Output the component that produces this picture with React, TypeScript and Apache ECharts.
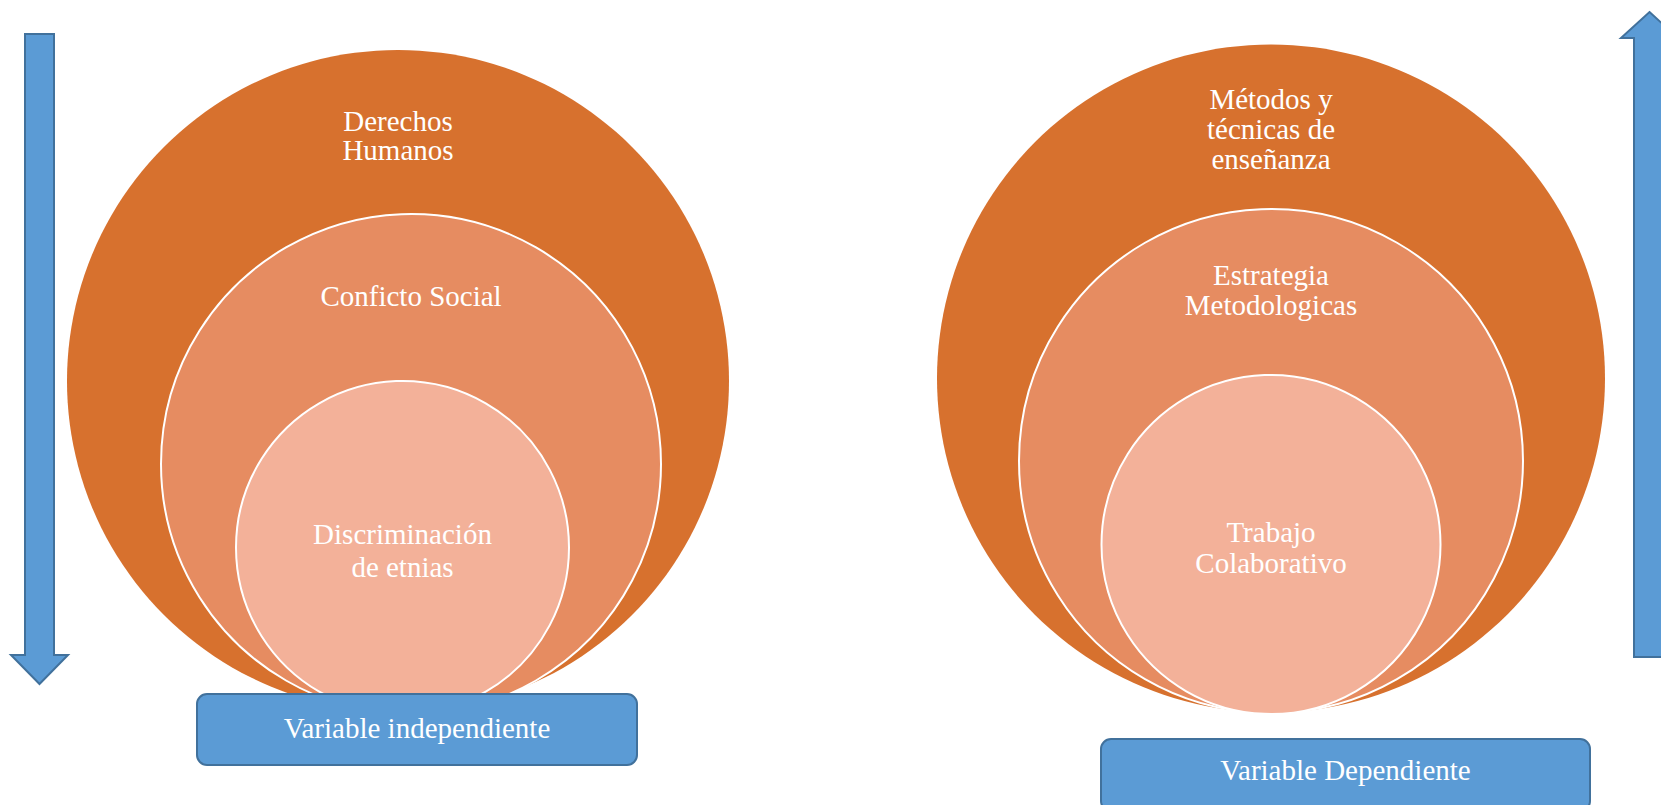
import React, { useEffect, useRef } from "react";
import * as echarts from "echarts";

// Labels of the nested circles (outer -> inner)
const leftLabels = ["Derechos\nHumanos", "Conficto Social", "Discriminación\nde etnias"];
const rightLabels = ["Métodos y\ntécnicas de\nenseñanza", "Estrategia\nMetodologicas", "Trabajo\nColaborativo"];
const boxLabels = ["Variable independiente", "Variable Dependiente"];
const ringColors = ["#D7712E", "#E68C61", "#F3B199"];

const FONT = "'Liberation Serif', 'Times New Roman', serif";
const BLUE = "#5B9BD5";
const BLUE_EDGE = "#41719C";

export default function App() {
  const ref = useRef<HTMLDivElement>(null);
  useEffect(() => {
    if (!ref.current) return;
    const chart = echarts.init(ref.current, null, { renderer: "svg" });

    const leftCircles = [
      { cx: 398, cy: 381, r: 331, ty: 135, lh: 29 },
      { cx: 411, cy: 464, r: 250, ty: 296, lh: 29 },
      { cx: 402.5, cy: 547.5, r: 166.5, ty: 550, lh: 33 },
    ];
    const rightCircles = [
      { cx: 1271, cy: 378.5, r: 334, ty: 129, lh: 30 },
      { cx: 1271, cy: 461, r: 252, ty: 290, lh: 30 },
      { cx: 1271, cy: 544.5, r: 169.5, ty: 547.5, lh: 31 },
    ];

    const elements: any[] = [];
    const addSet = (circles: any[], labels: string[]) => {
      circles.forEach((c, i) => {
        elements.push({
          type: "circle",
          shape: { cx: c.cx, cy: c.cy, r: c.r },
          style: {
            fill: ringColors[i],
            stroke: i === 0 ? "none" : "#FFFFFF",
            lineWidth: i === 0 ? 0 : 2,
          },
        });
      });
      circles.forEach((c, i) => {
        elements.push({
          type: "text",
          x: c.cx,
          y: c.ty,
          style: {
            text: labels[i],
            fill: "#FFFFFF",
            font: `29px ${FONT}`,
            lineHeight: c.lh,
            textAlign: "center",
            textVerticalAlign: "middle",
          },
        });
      });
    };
    addSet(leftCircles, leftLabels);
    addSet(rightCircles, rightLabels);

    const boxes = [
      { x: 197, y: 694, w: 440, h: 71, ty: 728 },
      { x: 1101, y: 739, w: 489, h: 72, ty: 770 },
    ];
    boxes.forEach((b, i) => {
      elements.push({
        type: "rect",
        shape: { x: b.x, y: b.y, width: b.w, height: b.h, r: 10 },
        style: { fill: BLUE, stroke: BLUE_EDGE, lineWidth: 2 },
      });
      elements.push({
        type: "text",
        x: b.x + b.w / 2,
        y: b.ty,
        style: {
          text: boxLabels[i],
          fill: "#FFFFFF",
          font: `29px ${FONT}`,
          textAlign: "center",
          textVerticalAlign: "middle",
        },
      });
    });

    // Down arrow (left)
    elements.push({
      type: "polygon",
      shape: {
        points: [
          [25, 34], [54, 34], [54, 655], [68, 655], [39.5, 684], [11, 655], [25, 655],
        ],
      },
      style: { fill: BLUE, stroke: BLUE_EDGE, lineWidth: 2 },
    });
    // Up arrow (right)
    elements.push({
      type: "polygon",
      shape: {
        points: [
          [1649.5, 12], [1678, 38], [1664, 38], [1664, 657], [1634, 657], [1634, 38], [1621, 38],
        ],
      },
      style: { fill: BLUE, stroke: BLUE_EDGE, lineWidth: 2 },
    });

    chart.setOption({
      animation: false,
      backgroundColor: "#FFFFFF",
      graphic: { elements },
    });
    return () => chart.dispose();
  }, []);
  return (
    <div
      ref={ref}
      style={{ position: "fixed", left: 0, top: 0, width: 1661, height: 805, background: "#fff" }}
    />
  );
}
